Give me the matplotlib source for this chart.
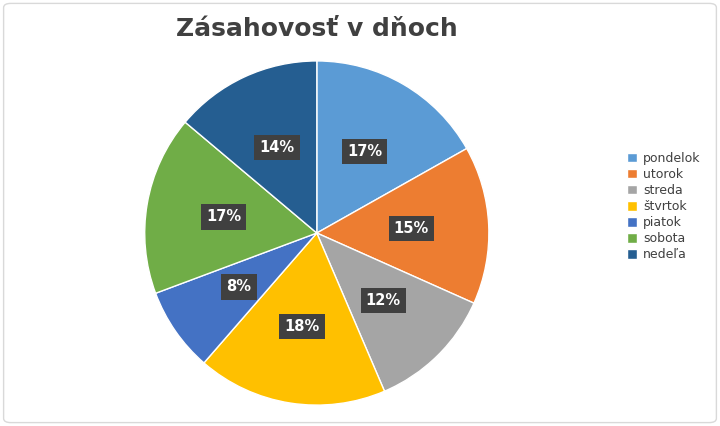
import matplotlib
matplotlib.use("Agg")
import matplotlib.pyplot as plt
from matplotlib.patches import FancyBboxPatch

days = ["pondelok", "utorok", "streda", "štvrtok", "piatok", "sobota", "nedeľa"]
values = [17, 15, 12, 18, 8, 17, 14]
colors = ["#5B9BD5", "#ED7D31", "#A5A5A5", "#FFC000", "#4472C4", "#70AD47", "#255E91"]

fig = plt.figure(figsize=(7.2, 4.26), dpi=100)
fig.patches.append(FancyBboxPatch((0.005, 0.008), 0.99, 0.984, boxstyle="round,pad=0,rounding_size=0.01",
                                  transform=fig.transFigure, fill=False, edgecolor="#D9D9D9", linewidth=1))
fig.text(0.44, 0.932, "Zásahovosť v dňoch", ha="center", va="center", fontsize=18,
         fontweight="bold", color="#404040", family="DejaVu Sans")

ax = fig.add_axes([0.201, 0.049, 0.478, 0.808])
wedges, texts, autotexts = ax.pie(values, colors=colors, startangle=90, counterclock=False,
                                  radius=1, frame=False,
                                  autopct=lambda p: f"{p:.0f}%", pctdistance=0.55,
                                  wedgeprops=dict(edgecolor="white", linewidth=1))
for t in autotexts:
    t.set_color("white")
    t.set_fontweight("bold")
    t.set_fontsize(10.5)
    t.set_bbox(dict(facecolor="#404040", edgecolor="none", boxstyle="square,pad=0.35"))
ax.set_xlim(-1, 1)
ax.set_ylim(-1, 1)
ax.set_aspect("equal")
ax.axis("off")

fig.legend(wedges, days, loc="center left", bbox_to_anchor=(0.855, 0.515), frameon=False,
           fontsize=9, handlelength=0.8, handleheight=0.8, handletextpad=0.5,
           labelspacing=0.25, labelcolor="#404040")

fig.savefig("out.png", dpi=100)
